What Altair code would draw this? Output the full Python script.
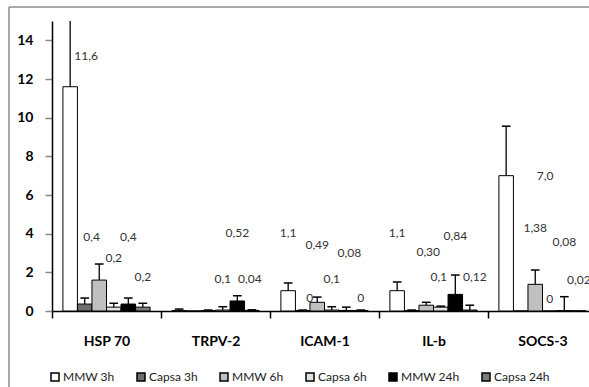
import altair as alt
import pandas as pd

categories = ["HSP 70", "TRPV-2", "ICAM-1", "IL-b", "SOCS-3"]
series = ["MMW 3h", "Capsa 3h", "MMW 6h", "Capsa 6h", "MMW 24h", "Capsa 24h"]
fills = ["#ffffff", "#6e6e6e", "#c0c0c0", "#e2e2e2", "#000000", "#7c7c7c"]

# bar heights per series (one value per category)
mean_mmw3 = [11.6, 0.02, 1.05, 1.05, 7.0]
mean_cap3 = [0.36, 0.0, 0.02, 0.02, 0.0]
mean_mmw6 = [1.6, 0.02, 0.45, 0.3, 1.38]
mean_cap6 = [0.2, 0.05, 0.05, 0.2, 0.0]
mean_mmw24 = [0.36, 0.52, 0.03, 0.86, 0.02]
mean_cap24 = [0.2, 0.03, 0.02, 0.05, 0.01]

# top of the error bars (None = no error bar)
err_mmw3 = [16.0, 0.1, 1.45, 1.5, 9.56]
err_cap3 = [0.67, None, 0.05, 0.05, None]
err_mmw6 = [2.43, 0.05, 0.72, 0.45, 2.12]
err_cap6 = [0.4, 0.22, 0.22, 0.25, None]
err_mmw24 = [0.67, 0.79, 0.2, 1.86, 0.74]
err_cap24 = [0.4, 0.06, 0.05, 0.3, None]

# data labels as printed in the chart (None = no label), and where they sit
lab_mmw3 = ["11,6", None, "1,1", "1,1", "7,0"]
lab_cap3 = ["0,4", None, "0", None, None]
lab_mmw6 = [None, None, "0,49", "0,30", "1,38"]
lab_cap6 = ["0,2", "0,1", "0,1", "0,1", "0"]
lab_mmw24 = ["0,4", "0,52", "0,08", "0,84", "0,08"]
lab_cap24 = ["0,2", "0,04", "0", "0,12", "0,02"]

laby_mmw3 = [13.17, None, 4.03, 4.03, 6.97]
laby_cap3 = [3.82, None, 0.67, None, None]
laby_mmw6 = [None, None, 3.41, 3.05, 4.29]
laby_cap6 = [2.74, 1.65, 1.65, 1.76, 0.62]
laby_mmw24 = [3.82, 4.03, 3.0, 3.87, 3.56]
laby_cap24 = [1.76, 1.65, 0.67, 1.76, 1.6]

labdx_mmw3 = [16, 0, 0, 0, 39]
labdx_cap3 = [7, 0, 7, 0, 0]
labdx_mmw6 = [0, 0, 0, 2, 0]
labdx_cap6 = [0, 0, 0, -2, 0]
labdx_mmw24 = [0, 0, 3, 0, 0]
labdx_cap24 = [0, -2, 0, 5, 0]

means = [mean_mmw3, mean_cap3, mean_mmw6, mean_cap6, mean_mmw24, mean_cap24]
errs = [err_mmw3, err_cap3, err_mmw6, err_cap6, err_mmw24, err_cap24]
labs = [lab_mmw3, lab_cap3, lab_mmw6, lab_cap6, lab_mmw24, lab_cap24]
labys = [laby_mmw3, laby_cap3, laby_mmw6, laby_cap6, laby_mmw24, laby_cap24]
labdxs = [labdx_mmw3, labdx_cap3, labdx_mmw6, labdx_cap6, labdx_mmw24, labdx_cap24]

W, H = 537, 290
PX_PER_CAT = 109.0
GROUP_PAD = 0.1
BAR_W = 0.8 / len(series)

rows, err_rows, lab_rows = [], [], []
for si, s in enumerate(series):
    for ci, c in enumerate(categories):
        x0 = ci + GROUP_PAD + si * BAR_W
        xc = x0 + BAR_W / 2
        rows.append({"series": s, "cat": c, "x": x0, "x2": x0 + BAR_W, "v": means[si][ci]})
        if errs[si][ci] is not None:
            err_rows.append({"xc": xc, "xl": xc - 0.04, "xr": xc + 0.04,
                             "v": means[si][ci], "top": errs[si][ci]})
        if labs[si][ci] is not None:
            lab_rows.append({"t": labs[si][ci], "y": labys[si][ci],
                             "x": xc + labdxs[si][ci] / PX_PER_CAT})

bars_df = pd.DataFrame(rows)
err_df = pd.DataFrame(err_rows)
lab_df = pd.DataFrame(lab_rows)

xdom = [0, W / PX_PER_CAT]
xscale = alt.Scale(domain=xdom, nice=False, zero=False)
yscale = alt.Scale(domain=[0, 15], nice=False)

cat_array = "[" + ",".join("'" + c + "'" for c in categories) + "]"
tick_vals = [i * 0.5 for i in range(2 * len(categories))]

FONT = "Lato"

bars = alt.Chart(bars_df).mark_rect(stroke="black", strokeWidth=1).encode(
    x=alt.X("x:Q", scale=xscale, axis=alt.Axis(
        values=tick_vals,
        labelExpr="datum.value % 1 == 0.5 ? " + cat_array + "[floor(datum.value)] : ''",
        tickColor=alt.condition("datum.value % 1 == 0", alt.value("black"), alt.value("transparent")),
        tickSize=7, tickWidth=1.5, labelPadding=16, labelFontSize=14, labelFontWeight="bold",
        labelFont=FONT, labelColor="black", labelOverlap=False, labelFlush=False,
        domainColor="black", domainWidth=1.5, grid=False, title=None)),
    x2="x2:Q",
    y=alt.Y("v:Q", scale=yscale, axis=alt.Axis(
        values=[0, 2, 4, 6, 8, 10, 12, 14], tickSize=7, tickWidth=1.5, labelPadding=12,
        labelFontSize=14, labelFontWeight="bold", labelFont=FONT, labelColor="black",
        domainColor="black", domainWidth=1.5, grid=False, title=None)),
    y2=alt.datum(0),
    fill=alt.Fill("series:N", scale=alt.Scale(domain=series, range=fills),
                  legend=alt.Legend(orient="none", legendX=-3, legendY=350, direction="horizontal",
                                    title=None, symbolType="square", symbolSize=64,
                                    symbolStrokeColor="black", symbolStrokeWidth=1.5,
                                    labelFontSize=12, labelFont=FONT, labelColor="#222",
                                    labelOffset=2, columnPadding=19)),
)

err_line = alt.Chart(err_df).mark_rule(color="black", strokeWidth=1.3, clip=True).encode(
    x=alt.X("xc:Q", scale=xscale), y=alt.Y("v:Q", scale=yscale), y2="top:Q")
err_cap = alt.Chart(err_df).mark_rule(color="black", strokeWidth=1.5, clip=True).encode(
    x=alt.X("xl:Q", scale=xscale), x2="xr:Q", y=alt.Y("top:Q", scale=yscale))

labels = alt.Chart(lab_df).mark_text(font=FONT, fontSize=12, color="#333", baseline="middle",
                                     align="center", clip=True).encode(
    x=alt.X("x:Q", scale=xscale), y=alt.Y("y:Q", scale=yscale), text="t:N")

frame_df = pd.DataFrame({"k": [0]})
frame_left = alt.Chart(frame_df).mark_rule(color="#8c8c8c", strokeWidth=1.5).encode(
    x=alt.value(-43), y=alt.value(-14), y2=alt.value(370))
frame_top = alt.Chart(frame_df).mark_rule(color="#8c8c8c", strokeWidth=1.5).encode(
    x=alt.value(-43), x2=alt.value(W + 5), y=alt.value(-14))

chart = alt.layer(bars, err_line, err_cap, labels, frame_left, frame_top).properties(
    width=W, height=H,
    autosize=alt.AutoSizeParams(type="none"),
    padding={"left": 52, "top": 21, "right": 0, "bottom": 76},
    background="white",
).configure_view(strokeWidth=0)

chart.save("out.html", embed_options={"renderer": "svg", "actions": False})
